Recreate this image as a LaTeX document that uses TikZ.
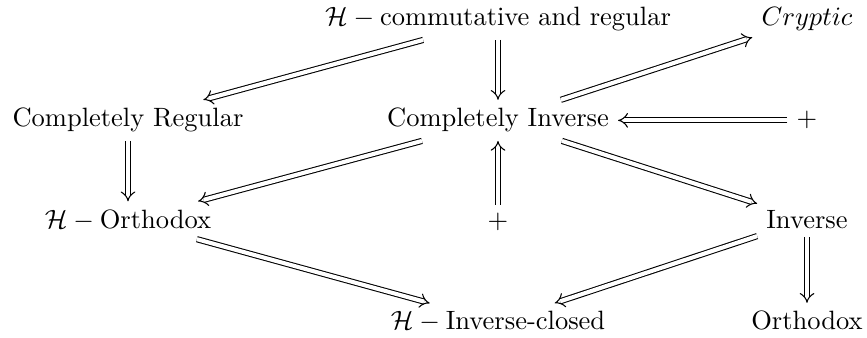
\documentclass[tikz,border=0pt]{standalone}
\usetikzlibrary{arrows.meta}
\begin{document}
\begin{tikzpicture}[x=0.3774pt,y=-0.3774pt,
  cell/.style={inner xsep=3.3pt, inner ysep=3pt, anchor=base},
  imp/.style={double equal sign distance, -{Implies}}]
\useasboundingbox (0,0) rectangle (867,338);
\node[cell] (hc)   at (498,26)    {$\mathcal{H}-\mbox{commutative and regular}$};
\node[cell] (cry)  at (807,26)    {$Cryptic$};
\node[cell] (cr)   at (128,127)   {Completely Regular};
\node[cell] (ci)   at (498,127)   {Completely Inverse};
\node[cell] (p1)   at (807,127)   {$+$};
\node[cell] (ho)   at (128,228.5) {$\mathcal{H}-\mbox{Orthodox}$};
\node[cell] (p2)   at (498,228.5) {$+$};
\node[cell] (inv)  at (807,228.5) {Inverse};
\node[cell] (hic)  at (498,330)   {$\mathcal{H}-\mbox{Inverse-closed}$};
\node[cell] (orth) at (807,330)   {Orthodox};
\draw[imp] (hc) -- (cr);
\draw[imp] (hc) -- (ci);
\draw[imp] (ci) -- (cry);
\draw[imp] (p1) -- (ci);
\draw[imp] (cr) -- (ho);
\draw[imp] (ci) -- (ho);
\draw[imp] (ci) -- (inv);
\draw[imp] (p2) -- (ci);
\draw[imp] (ho) -- (hic);
\draw[imp] (inv) -- (hic);
\draw[imp] (inv) -- (orth);
\end{tikzpicture}
\end{document}
